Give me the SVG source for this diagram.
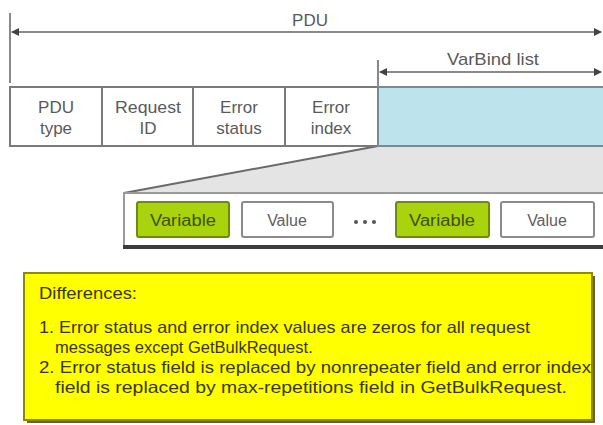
<svg xmlns="http://www.w3.org/2000/svg" width="603" height="425" viewBox="0 0 603 425">
  <style>
    .lbl { font-family: "Liberation Sans", Arial, sans-serif; font-size: 17px; fill: #5a5a5a; text-anchor: middle; }
    .dim { stroke: #8a8a8a; stroke-width: 2; fill: none; }
    .cell { fill: #ffffff; stroke: #7a7a7a; stroke-width: 2; }
    .var { fill: #a9d30d; stroke: #6e8a10; stroke-width: 2; }
    .val { fill: #ffffff; stroke: #8a8a8a; stroke-width: 2; }
    .vtxt { font-family: "Liberation Sans", Arial, sans-serif; font-size: 16px; text-anchor: middle; }
    .note { font-family: "Liberation Sans", Arial, sans-serif; font-size: 16.5px; fill: #3a3600; }
  </style>
  <defs>
    <marker id="tip" viewBox="0 0 8 8" refX="7" refY="4" markerWidth="4" markerHeight="4" orient="auto-start-reverse">
      <path d="M0,0 L8,4 L0,8 z" fill="#444"/>
    </marker>
  </defs>
  <rect width="603" height="425" fill="#ffffff"/>

  <!-- dimension lines -->
  <g id="connectors">
    <line class="dim" x1="10" y1="13" x2="10" y2="83"/>
    <line class="dim" x1="12" y1="32" x2="601" y2="32" marker-start="url(#tip)" marker-end="url(#tip)"/>
    <line class="dim" x1="378" y1="60" x2="378" y2="87"/>
    <line class="dim" x1="380" y1="72" x2="601" y2="72" marker-start="url(#tip)" marker-end="url(#tip)"/>
    <!-- expansion wedge -->
    <polygon points="378,146 603,146 603,193 124,193" fill="#e4e4e4"/>
    <line x1="378" y1="146" x2="124" y2="193" stroke="#6a6a6a" stroke-width="2"/>
  </g>

  <g id="dim-labels">
    <text class="lbl" x="310" y="26">PDU</text>
    <text class="lbl" x="493" y="65" textLength="92" lengthAdjust="spacingAndGlyphs">VarBind list</text>
  </g>

  <!-- PDU header fields -->
  <g id="pdu-type">
    <rect class="cell" x="10" y="87" width="92" height="59"/>
    <text class="lbl" x="56" y="113">PDU</text>
    <text class="lbl" x="56" y="134">type</text>
  </g>
  <g id="request-id">
    <rect class="cell" x="102" y="87" width="91" height="59"/>
    <text class="lbl" x="148" y="113" textLength="66" lengthAdjust="spacingAndGlyphs">Request</text>
    <text class="lbl" x="148" y="134">ID</text>
  </g>
  <g id="error-status">
    <rect class="cell" x="193" y="87" width="92" height="59"/>
    <text class="lbl" x="239" y="113">Error</text>
    <text class="lbl" x="239" y="134">status</text>
  </g>
  <g id="error-index">
    <rect class="cell" x="285" y="87" width="93" height="59"/>
    <text class="lbl" x="331" y="113">Error</text>
    <text class="lbl" x="331" y="134">index</text>
  </g>
  <g id="varbind-list">
    <rect x="378" y="87" width="226" height="59" fill="#bde3ec" stroke="#7a8a8e" stroke-width="2"/>
  </g>

  <!-- expanded variable bindings -->
  <g id="varbind-detail">
    <rect x="124" y="193" width="484" height="54" fill="#ffffff" stroke="#9a9a9a" stroke-width="2"/>
    <line x1="123" y1="247" x2="603" y2="247" stroke="#3c3c3c" stroke-width="4"/>
  </g>
  <g id="variable-1">
    <rect class="var" x="137" y="202" width="92" height="35" rx="2"/>
    <text class="vtxt" x="183" y="226" fill="#3f5000" textLength="66" lengthAdjust="spacingAndGlyphs">Variable</text>
  </g>
  <g id="value-1">
    <rect class="val" x="242" y="202" width="91" height="35" rx="2"/>
    <text class="vtxt" x="287" y="226" fill="#606060">Value</text>
  </g>
  <g id="ellipsis">
    <circle cx="356" cy="222" r="2" fill="#555"/>
    <circle cx="365" cy="222" r="2" fill="#555"/>
    <circle cx="374" cy="222" r="2" fill="#555"/>
  </g>
  <g id="variable-n">
    <rect class="var" x="396" y="202" width="93" height="35" rx="2"/>
    <text class="vtxt" x="442" y="226" fill="#3f5000" textLength="66" lengthAdjust="spacingAndGlyphs">Variable</text>
  </g>
  <g id="value-n">
    <rect class="val" x="501" y="202" width="93" height="35" rx="2"/>
    <text class="vtxt" x="547" y="226" fill="#606060">Value</text>
  </g>

  <!-- notes -->
  <g id="differences">
    <rect x="27" y="276" width="568" height="147" fill="#3a3a1a" opacity="0.8"/>
    <rect x="24" y="273" width="568" height="147" fill="#ffff00" stroke="#8c8a00" stroke-width="2"/>
    <text class="note" x="39" y="299" textLength="98" lengthAdjust="spacingAndGlyphs">Differences:</text>
    <text class="note" x="39" y="333" textLength="491" lengthAdjust="spacingAndGlyphs">1. Error status and error index values are zeros for all request</text>
    <text class="note" x="55" y="353">messages except GetBulkRequest.</text>
    <text class="note" x="39" y="373" textLength="552" lengthAdjust="spacingAndGlyphs">2. Error status field is replaced by nonrepeater field and error index</text>
    <text class="note" x="55" y="393" textLength="512" lengthAdjust="spacingAndGlyphs">field is replaced by max-repetitions field in GetBulkRequest.</text>
  </g>
</svg>
